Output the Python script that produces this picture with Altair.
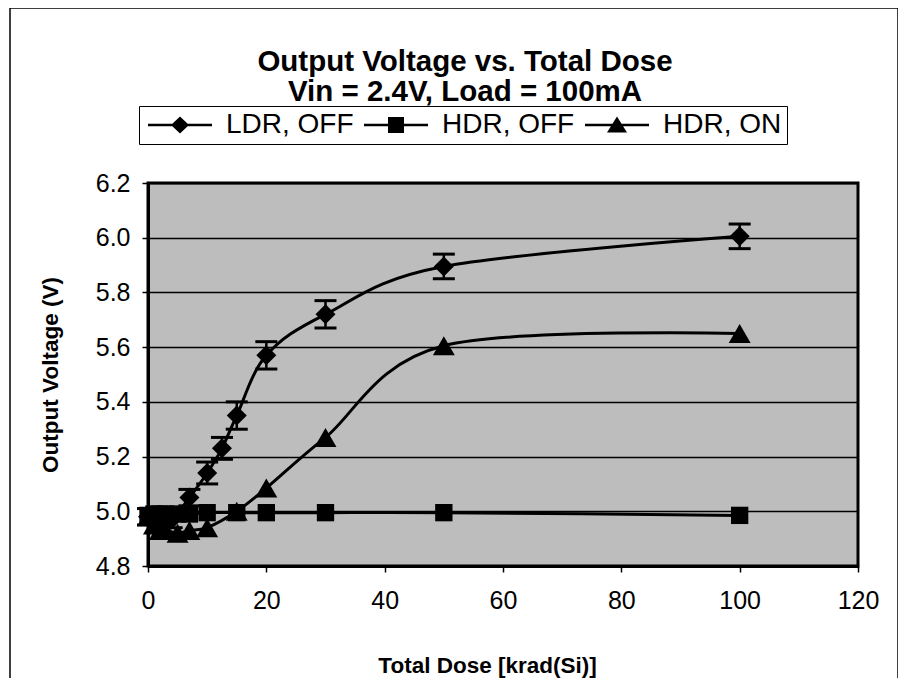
import altair as alt
import pandas as pd

FONT = "Liberation Sans, Arial, sans-serif"

series = ["LDR, OFF", "HDR, OFF", "HDR, ON"]

dose_ldr = [0, 2, 4, 7, 10, 12.5, 15, 20, 30, 50, 100]
v_ldr = [4.98, 4.97, 4.97, 5.05, 5.14, 5.23, 5.35, 5.57, 5.72, 5.895, 6.005]
err_ldr = [0.03, 0.03, 0.03, 0.03, 0.04, 0.04, 0.05, 0.05, 0.05, 0.045, 0.045]

dose_hdr = [0, 1, 2, 3, 5, 7, 10, 15, 20, 30, 50, 100]
v_hdr_off = [4.985, 4.99, 4.99, 4.99, 4.99, 4.99, 4.995, 4.995, 4.995, 4.995, 4.995, 4.985]
v_hdr_on = [4.98, 4.95, 4.93, 4.93, 4.92, 4.93, 4.94, 5.00, 5.085, 5.27, 5.605, 5.65]

x_ticks = [0, 20, 40, 60, 80, 100, 120]
y_ticks = [4.8, 5.0, 5.2, 5.4, 5.6, 5.8, 6.0, 6.2]

rows = []
for d, v, e in zip(dose_ldr, v_ldr, err_ldr):
    rows.append({"dose": d, "v": v, "series": series[0], "lo": v - e, "hi": v + e})
for d, v in zip(dose_hdr, v_hdr_off):
    rows.append({"dose": d, "v": v, "series": series[1], "lo": v, "hi": v})
for d, v in zip(dose_hdr, v_hdr_on):
    rows.append({"dose": d, "v": v, "series": series[2], "lo": v, "hi": v})
df = pd.DataFrame(rows)
df_err = df[df["series"] == series[0]]

xs = alt.Scale(domain=[0, 120], nice=False)
ys = alt.Scale(domain=[4.8, 6.2], nice=False)

X = alt.X("dose:Q", scale=xs,
          axis=alt.Axis(values=x_ticks, format="d", grid=False, labelFlush=False,
                        title="Total Dose [krad(Si)]", labelPadding=16, titlePadding=41,
                        titleX=339, titleAlign="center", titleAnchor="start"))
Y = alt.Y("v:Q", scale=ys,
          axis=alt.Axis(values=y_ticks, format=".1f", grid=True, labelFlush=False,
                        title="Output Voltage (V)", labelPadding=12, titlePadding=33))

# legend symbols: a line with the marker on it
LINE = "M-3.2,-0.12L3.2,-0.12L3.2,0.12L-3.2,0.12Z"
leg_shapes = [
    LINE + "M-0.9,0L0,-0.85L0.9,0L0,0.85Z",
    LINE + "M-0.8,-0.8L0.8,-0.8L0.8,0.8L-0.8,0.8Z",
    LINE + "M0,-0.85L1,0.75L-1,0.75Z",
]

frame = alt.Chart(pd.DataFrame({"a": [0]})).mark_rect(
    filled=False, stroke="black", strokeWidth=1.5
).encode(x=alt.value(-138), x2=alt.value(750), y=alt.value(-175), y2=alt.value(520))

err_rule = alt.Chart(df_err).mark_rule(color="black", strokeWidth=2.5).encode(
    x=alt.X("dose:Q", scale=xs), y=alt.Y("lo:Q", scale=ys), y2="hi:Q")
cap_hi = alt.Chart(df_err).mark_rule(color="black", strokeWidth=3, xOffset=-11, x2Offset=11).encode(
    x=alt.X("dose:Q", scale=xs), x2="dose:Q", y=alt.Y("hi:Q", scale=ys))
cap_lo = alt.Chart(df_err).mark_rule(color="black", strokeWidth=3, xOffset=-11, x2Offset=11).encode(
    x=alt.X("dose:Q", scale=xs), x2="dose:Q", y=alt.Y("lo:Q", scale=ys))

lines = alt.Chart(df).mark_line(interpolate="cardinal", color="black", strokeWidth=3).encode(
    x=X, y=Y, detail="series:N")

marker_specs = [("diamond", 400), ("square", 300), ("triangle-up", 480)]
point_layers = []
for name, (shp, sz) in zip(series, marker_specs):
    point_layers.append(
        alt.Chart(df).transform_filter(alt.datum.series == name)
        .mark_point(filled=True, color="black", opacity=1, shape=shp, size=sz)
        .encode(x=X, y=Y)
    )

legend_layer = alt.Chart(df).mark_point(filled=True, color="black").encode(
    x=X, y=Y,
    shape=alt.Shape("series:N", scale=alt.Scale(domain=series, range=leg_shapes),
                    legend=alt.Legend(title=None, orient="none", direction="horizontal",
                                      legendX=-9, legendY=-77,
                                      symbolSize=400, symbolStrokeWidth=0,
                                      symbolFillColor="black", symbolOpacity=1,
                                      symbolOffset=22, labelOffset=32, columnPadding=6,
                                      labelFont=FONT, labelFontSize=28, labelColor="black",
                                      strokeColor="black", fillColor="white", padding=5)),
).transform_filter("datum.dose < -1")

chart = alt.layer(frame, err_rule, cap_hi, cap_lo, lines, *point_layers, legend_layer).properties(
    width=710, height=383, autosize="none",
    padding={"left": 140, "top": 175, "right": 40, "bottom": 112},
    background="white",
    title=alt.TitleParams(
        text=["Output Voltage vs. Total Dose", "Vin = 2.4V, Load = 100mA"],
        font=FONT, fontSize=29.5, fontWeight="bold", color="black",
        anchor="middle", frame="group", dx=-38, offset=-100, lineHeight=30,
    ),
).configure_view(
    fill="#bdbdbd", stroke="black", strokeWidth=3
).configure_axis(
    domainColor="black", domainWidth=3, tickColor="black", tickWidth=1.5, tickSize=6,
    labelFont=FONT, labelFontSize=25, labelColor="black",
    titleFont=FONT, titleFontSize=22.5, titleFontWeight="bold", titleColor="black",
    gridColor="black", gridWidth=1.5, labelOverlap=False,
)

chart.save("out.html", embed_options={"renderer": "svg", "actions": False})
